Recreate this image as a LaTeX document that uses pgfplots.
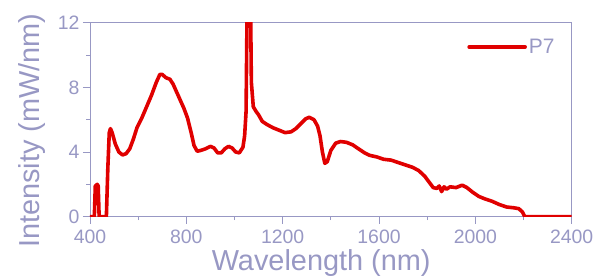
\documentclass[border=0pt]{standalone}
\usepackage{pgfplots}
\pgfplotsset{compat=1.18}
\usepackage{fontspec}
\setmainfont{Liberation Sans}
\definecolor{axc}{HTML}{9898C4}
\definecolor{lred}{HTML}{E00000}
\begin{document}
\begin{tikzpicture}
\path[use as bounding box] (-90bp,-63.3bp) rectangle (522bp,216.7bp);
\begin{axis}[
  at={(0,0)}, anchor=south west,
  scale only axis, width=481.7bp, height=194bp,
  xmin=400, xmax=2400, ymin=0, ymax=12,
  xtick={400,800,...,2400}, ytick={0,4,8,12},
  minor x tick num=1, minor y tick num=1,
  xtick pos=bottom, ytick pos=left,
  tick align=outside,
  major tick length=7bp, minor tick length=3.5bp,
  axis line style={axc, line width=0.9bp},
  every tick/.style={axc, line width=0.9bp},
  /pgf/number format/assume math mode=true,
  /pgf/number format/1000 sep={},
  tick label style={font=\fontsize{19.5}{22}\selectfont, text=axc},
  xticklabel style={yshift=-3bp},
  xlabel={Wavelength (nm)}, ylabel={Intensity (mW/nm)},
  label style={font=\fontsize{29}{32}\selectfont, text=axc},
  xlabel style={at={(axis description cs:0.48,0)}, anchor=base, yshift=-54bp},
  ylabel style={at={(axis description cs:0,0.444)}, anchor=base, yshift=50bp},
  legend style={draw=none, fill=none, font=\fontsize{21}{24}\selectfont, text=axc,
    at={(axis description cs:1,1)}, anchor=north east, xshift=-12bp, yshift=-12bp},
  legend image code/.code={\draw[#1] (0bp,0bp) -- (56bp,0bp);},
]
\addplot[lred, line width=3.6bp, line join=round, line cap=round] coordinates {
(400,0) (418,0) (422,1.9) (430,2.0) (434,1.9) (438,0) (468,0) (474,3.0) (480,5.2)
(485,5.45) (492,5.2) (505,4.5) (520,4.0) (535,3.82) (550,3.9) (565,4.2) (580,4.8)
(595,5.5) (615,6.1) (635,6.8) (655,7.5) (675,8.3) (690,8.8) (700,8.8) (715,8.6)
(732,8.5) (745,8.2) (760,7.7) (775,7.2) (790,6.7) (805,6.1) (820,5.2) (832,4.4)
(845,4.05) (860,4.1) (880,4.2) (900,4.35) (915,4.25) (930,3.95) (945,3.95) (960,4.2)
(975,4.35) (990,4.25) (1005,4.0) (1020,3.95) (1035,4.3) (1042,5.0) (1048,6.5)
(1053,14) (1066,14) (1070,8.3) (1078,6.8) (1090,6.5) (1100,6.3) (1115,5.9)
(1135,5.7) (1160,5.5) (1185,5.35) (1210,5.2) (1235,5.25) (1255,5.45) (1275,5.75)
(1295,6.05) (1310,6.15) (1330,6.0) (1345,5.6) (1355,5.0) (1365,4.0) (1375,3.3)
(1385,3.4) (1400,4.1) (1420,4.55) (1440,4.65) (1465,4.6) (1490,4.45) (1515,4.2)
(1540,3.95) (1560,3.8) (1590,3.7) (1620,3.55) (1650,3.5) (1680,3.35) (1710,3.2)
(1740,3.05) (1765,2.85) (1790,2.5) (1810,2.1) (1825,1.8) (1840,1.75) (1850,1.9)
(1860,1.55) (1870,1.85) (1880,1.7) (1895,1.85) (1920,1.8) (1945,1.95) (1965,1.8)
(1990,1.5) (2015,1.25) (2040,1.1) (2070,0.95) (2100,0.75) (2130,0.6) (2160,0.55)
(2180,0.5) (2195,0.3) (2205,0) (2400,0)
};
\addlegendentry{P7}
\end{axis}
\end{tikzpicture}
\end{document}
